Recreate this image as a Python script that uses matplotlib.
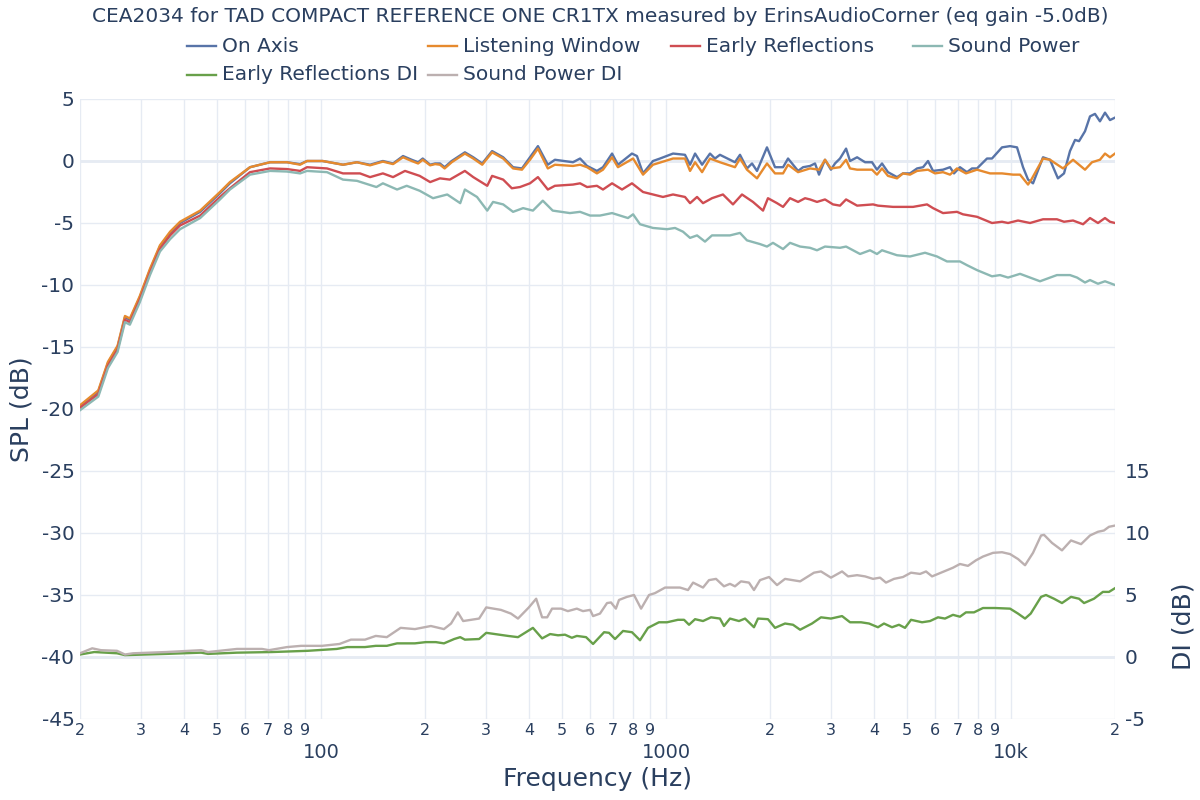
import matplotlib.pyplot as plt
from matplotlib.lines import Line2D
from matplotlib.ticker import FixedLocator

plt.rcParams['font.family'] = ['DejaVu Sans']
plt.rcParams['axes.unicode_minus'] = False

TEXT = '#2a3f5f'
GRID = '#e6ebf3'

title = "CEA2034 for TAD COMPACT REFERENCE ONE CR1TX measured by ErinsAudioCorner (eq gain -5.0dB)"

# On Axis
on_freq = [20, 22.6, 24.1, 25.7, 27.0, 27.9, 29.8, 31.9, 34.1, 36.5, 39.0, 44.6, 50.9, 54.4, 62.2,
           71.1, 79.6, 86.9, 91, 101, 115.7, 127, 138.6, 151, 161.6, 172.7, 183, 191, 197, 207,
           214, 221, 228, 239, 261, 276, 293, 313, 337, 360, 382, 403, 425, 454, 476, 537, 563,
           590, 630, 656, 697, 725, 796, 823, 857, 916, 960, 1047, 1134, 1173, 1213, 1271, 1340,
           1385, 1432, 1583, 1637, 1715, 1774, 1834, 1960, 2068, 2182, 2256, 2412, 2494, 2612,
           2701, 2774, 2887, 3004, 3086, 3191, 3323, 3412, 3577, 3772, 3952, 4084, 4224, 4395,
           4668, 4858, 5092, 5337, 5555, 5742, 5937, 6346, 6649, 6829, 7106, 7446, 7700, 7963,
           8511, 8800, 9408, 9928, 10400, 10826, 11194, 11572, 12370, 12962, 13664, 14232, 14810,
           15320, 15732, 16372, 16928, 17498, 18088, 18708, 19342, 20000]
on_spl = [-19.8, -18.6, -16.3, -15.0, -12.6, -12.8, -11.0, -8.8, -6.9, -5.8, -5.0, -4.1, -2.6, -1.8, -0.5,
          -0.1, -0.1, -0.25, 0.0, 0.0, -0.3, -0.1, -0.3, 0.0, -0.2, 0.4, 0.1, -0.1, 0.2, -0.3,
          -0.2, -0.2, -0.5, 0.0, 0.7, 0.3, -0.2, 0.8, 0.3, -0.5, -0.6, 0.3, 1.2, -0.3, 0.1, -0.1, 0.2,
          -0.4, -0.8, -0.5, 0.6, -0.3, 0.6, 0.4, -1.0, 0.0, 0.2, 0.6, 0.5, -0.3, 0.6, -0.3, 0.6,
          0.2, 0.5, -0.1, 0.5, -0.6, -0.2, -0.8, 1.1, -0.5, -0.5, 0.2, -0.8, -0.5, -0.4,
          -0.2, -1.1, 0.1, -0.7, -0.2, 0.2, 1.0, 0.0, 0.3, -0.1, -0.1, -0.7, -0.2, -0.9,
          -1.3, -1.0, -1.0, -0.6, -0.5, 0.0, -0.8, -0.7, -0.5, -1.0, -0.5, -0.9, -0.6, -0.6,
          0.2, 0.2, 1.1, 1.2, 1.1, -0.5, -1.5, -1.8, 0.3, 0.1, -1.4, -1.0, 0.8,
          1.7, 1.6, 2.4, 3.6, 3.8, 3.2, 3.9, 3.3, 3.5]

# Listening Window
lw_freq = [20, 22.6, 24.1, 25.7, 27.0, 27.9, 29.8, 31.9, 34.1, 36.5, 39.0, 44.6, 50.9, 54.4, 62.2,
           71.1, 79.6, 86.9, 91, 101, 115.7, 127, 138.6, 151, 161.6, 172.7, 183, 191, 197, 207,
           214, 221, 228, 239, 261, 276, 293, 313, 337, 360, 382, 403, 425, 454, 476, 537, 563,
           590, 630, 656, 697, 725, 802, 857, 916, 1047, 1134, 1173, 1213, 1271, 1340, 1432,
           1583, 1637, 1715, 1834, 1960, 2068, 2182, 2256, 2412, 2612, 2774, 2887, 3004, 3191,
           3323, 3412, 3577, 3952, 4084, 4224, 4395, 4668, 4858, 5092, 5337, 5742, 6016, 6346,
           6649, 6966, 7397, 7963, 8684, 9408, 10129, 10612, 11194, 11443, 12370, 12962, 14136,
           15114, 16372, 17152, 18088, 18708, 19342, 20000]
lw_spl = [-19.7, -18.5, -16.2, -14.9, -12.5, -12.7, -10.9, -8.7, -6.8, -5.7, -4.9, -4.0, -2.5, -1.7, -0.5,
          -0.1, -0.1, -0.3, 0.0, 0.0, -0.3, -0.1, -0.35, -0.05, -0.25, 0.3, 0.0, -0.2, 0.1, -0.35,
          -0.25, -0.3, -0.6, -0.1, 0.6, 0.2, -0.3, 0.7, 0.2, -0.6, -0.7, 0.1, 1.0, -0.6, -0.3, -0.4, -0.3,
          -0.5, -1.0, -0.7, 0.3, -0.5, 0.2, -1.1, -0.3, 0.2, 0.2, -0.8, -0.1, -0.9, 0.2, -0.1,
          -0.5, 0.2, -0.7, -1.4, -0.2, -1.0, -1.0, -0.3, -0.9, -0.6, -0.7, 0.1, -0.6, -0.5,
          0.1, -0.6, -0.7, -0.7, -1.1, -0.6, -1.2, -1.4, -1.0, -1.1, -0.8, -0.7, -1.0, -0.9,
          -1.1, -0.6, -1.0, -0.7, -1.0, -1.0, -1.1, -1.1, -1.9, -1.5, 0.2, 0.1, -0.6,
          0.1, -0.7, -0.1, 0.1, 0.6, 0.3, 0.6]

# Early Reflections
er_freq = [20, 22.6, 24.1, 25.7, 27.0, 27.9, 29.8, 31.9, 34.1, 36.5, 39.0, 44.6, 50.9, 54.4, 62.2,
           71.1, 79.6, 86.9, 91, 104, 115.7, 129.6, 138.6, 151, 161.6, 175, 193, 207, 221, 236,
           261, 276, 303, 313, 337, 357, 377, 403, 425, 454, 476, 537, 563, 590, 630, 656, 697,
           745, 796, 857, 916, 979, 1047, 1134, 1173, 1229, 1279, 1358, 1461, 1562, 1659, 1785,
           1909, 1973, 2096, 2182, 2286, 2412, 2527, 2612, 2737, 2887, 3045, 3191, 3323, 3577,
           3979, 4111, 4545, 5196, 5704, 5937, 6346, 6966, 7250, 7963, 8800, 9408, 9796, 10470,
           11344, 12370, 13572, 14232, 15114, 16160, 16928, 17852, 18708, 19342, 20000]
er_spl = [-19.9, -18.8, -16.5, -15.2, -12.8, -13.0, -11.2, -9.0, -7.1, -6.0, -5.2, -4.4, -2.9, -2.2, -0.9,
          -0.6, -0.65, -0.8, -0.5, -0.6, -1.0, -1.0, -1.3, -1.0, -1.3, -0.8, -1.2, -1.7, -1.4, -1.5,
          -0.8, -1.3, -2.0, -1.2, -1.5, -2.2, -2.1, -1.8, -1.3, -2.3, -2.0, -1.9, -1.8, -2.1, -2.0, -2.3, -1.8,
          -2.3, -1.8, -2.5, -2.7, -2.9, -2.7, -2.9, -3.4, -2.9, -3.4, -3.0, -2.7, -3.5, -2.7, -3.3,
          -4.0, -3.0, -3.4, -3.7, -3.0, -3.3, -3.0, -3.1, -3.3, -3.1, -3.5, -3.6, -3.1, -3.6,
          -3.5, -3.6, -3.7, -3.7, -3.5, -3.8, -4.2, -4.1, -4.3, -4.5, -5.0, -4.9, -5.0, -4.8,
          -5.0, -4.7, -4.7, -4.9, -4.8, -5.1, -4.6, -5.0, -4.6, -4.9, -5.0]

# Sound Power
sp_freq = [20, 22.6, 24.1, 25.7, 27.0, 27.9, 29.8, 31.9, 34.1, 36.5, 39.0, 44.6, 50.9, 54.4, 62.2,
           71.1, 79.6, 86.9, 91, 104, 115.7, 127, 144.6, 151, 166, 177, 193, 211, 232, 253,
           261, 283, 303, 315, 337, 360, 385, 411, 439, 469, 526, 563, 602, 643, 697, 735, 775,
           802, 840, 916, 1006, 1061, 1119, 1173, 1229, 1296, 1358, 1432, 1531, 1637, 1715, 1871,
           1960, 2040, 2182, 2286, 2445, 2612, 2737, 2887, 3191, 3323, 3648, 3899, 4084, 4224,
           4668, 5092, 5629, 6097, 6517, 7106, 7446, 7963, 8800, 9283, 9796, 10612, 12126, 13572,
           14810, 15524, 16372, 16928, 17852, 18708, 20000]
sp_spl = [-20.1, -19.0, -16.7, -15.4, -13.0, -13.2, -11.4, -9.2, -7.3, -6.3, -5.5, -4.6, -3.1, -2.3, -1.1,
          -0.8, -0.85, -1.0, -0.8, -0.9, -1.5, -1.6, -2.1, -1.8, -2.3, -2.0, -2.4, -3.0, -2.7, -3.4,
          -2.3, -2.9, -4.0, -3.3, -3.5, -4.1, -3.8, -4.0, -3.2, -4.0, -4.2, -4.1, -4.4, -4.4, -4.2, -4.4, -4.6,
          -4.3, -5.1, -5.4, -5.5, -5.4, -5.7, -6.2, -6.0, -6.5, -6.0, -6.0, -6.0, -5.8, -6.4, -6.7,
          -6.9, -6.6, -7.1, -6.6, -6.9, -7.0, -7.2, -6.9, -7.0, -6.9, -7.5, -7.2, -7.5, -7.2,
          -7.6, -7.7, -7.4, -7.7, -8.1, -8.1, -8.4, -8.8, -9.3, -9.2, -9.4, -9.1, -9.7, -9.2,
          -9.2, -9.4, -9.8, -9.6, -9.9, -9.7, -10.0]

# Early Reflections DI
erdi_freq = [20, 22.0, 25.6, 27.0, 35.5, 44.9, 47.0, 57.0, 72.0, 91.5, 111, 119, 134, 144, 155, 166,
             187, 201, 215, 227, 243, 253, 261, 287, 301, 348, 372, 411, 437, 461, 486, 509, 533,
             551, 586, 614, 661, 683, 711, 750, 796, 840, 886, 953, 1006, 1082, 1127, 1165, 1213,
             1279, 1349, 1432, 1471, 1531, 1626, 1693, 1797, 1846, 1973, 2068, 2211, 2332, 2445,
             2647, 2811, 3004, 3235, 3412, 3672, 3873, 4111, 4280, 4515, 4730, 4925, 5126, 5518,
             5820, 6138, 6431, 6783, 7106, 7397, 7804, 8286, 8980, 9928, 10470, 10972, 11394,
             12210, 12619, 13308, 14040, 14910, 15732, 16268, 17380, 18446, 19214, 20000]
erdi_db = [0.2, 0.4, 0.3, 0.15, 0.25, 0.35, 0.25, 0.35, 0.4, 0.5, 0.65, 0.8, 0.8, 0.9, 0.9, 1.1,
           1.1, 1.2, 1.2, 1.1, 1.45, 1.6, 1.4, 1.45, 1.95, 1.7, 1.6, 2.35, 1.5, 1.85, 1.75, 1.8, 1.55,
           1.7, 1.6, 1.05, 2.0, 1.95, 1.45, 2.1, 2.0, 1.35, 2.35, 2.8, 2.8, 3.0, 3.0, 2.6, 3.05,
           2.9, 3.2, 3.1, 2.5, 3.1, 2.9, 3.1, 2.4, 3.1, 3.05, 2.35, 2.7, 2.6, 2.2,
           2.7, 3.2, 3.1, 3.3, 2.8, 2.8, 2.7, 2.4, 2.7, 2.4, 2.6, 2.35, 3.0, 2.8,
           2.9, 3.2, 3.1, 3.4, 3.25, 3.6, 3.6, 3.95, 3.95, 3.9, 3.5, 3.1, 3.5,
           4.85, 5.0, 4.7, 4.35, 4.85, 4.7, 4.35, 4.7, 5.25, 5.25, 5.55]

# Sound Power DI
spdi_freq = [20, 21.7, 23.0, 25.6, 27.0, 28.5, 35.5, 44.9, 47.0, 57.0, 67.4, 70.6, 79.6, 87.5, 100.6,
             113, 122, 134, 144, 155, 170, 187, 208, 227, 238, 249, 258, 287, 301, 332, 355, 372,
             400, 420, 437, 452, 467, 496, 519, 551, 574, 602, 614, 643, 674, 692, 715, 730, 770,
             807, 846, 892, 928, 993, 1054, 1097, 1157, 1197, 1279, 1331, 1395, 1471, 1531, 1583,
             1648, 1738, 1797, 1871, 1987, 2096, 2211, 2445, 2683, 2811, 3004, 3235, 3368, 3577,
             3772, 3979, 4168, 4337, 4575, 4858, 5126, 5445, 5666, 5898, 6262, 6783, 7106, 7496,
             7910, 8286, 8860, 9408, 9928, 10470, 10972, 11572, 12210, 12455, 13136, 14040, 14910,
             15946, 16928, 17852, 18570, 19214, 20000]
spdi_db = [0.3, 0.7, 0.55, 0.5, 0.2, 0.3, 0.4, 0.55, 0.4, 0.65, 0.65, 0.55, 0.8, 0.9, 0.9,
           1.05, 1.4, 1.4, 1.7, 1.6, 2.35, 2.25, 2.5, 2.25, 2.7, 3.6, 2.9, 3.1, 4.0, 3.8, 3.5, 3.1,
           4.0, 4.7, 3.2, 3.2, 3.9, 3.9, 3.7, 3.9, 3.7, 3.8, 3.3, 3.5, 4.35, 4.4, 3.9, 4.6, 4.85,
           5.0, 3.9, 5.0, 5.15, 5.6, 5.6, 5.6, 5.4, 6.0, 5.6, 6.2, 6.3, 5.7, 5.9, 5.7,
           6.1, 6.0, 5.4, 6.2, 6.45, 5.8, 6.3, 6.1, 6.8, 6.9, 6.4, 6.9, 6.5, 6.6,
           6.5, 6.3, 6.4, 6.0, 6.3, 6.45, 6.8, 6.7, 6.9, 6.5, 6.8, 7.2, 7.5, 7.35,
           7.8, 8.1, 8.4, 8.45, 8.3, 7.9, 7.4, 8.4, 9.8, 9.85, 9.2, 8.6, 9.4,
           9.1, 9.8, 10.1, 10.2, 10.5, 10.6]

spl_series = [
    ("On Axis", on_freq, on_spl, '#5874a8'),
    ("Listening Window", lw_freq, lw_spl, '#e68a2e'),
    ("Early Reflections", er_freq, er_spl, '#cf4d52'),
    ("Sound Power", sp_freq, sp_spl, '#8cb8b3'),
]
di_series = [
    ("Early Reflections DI", erdi_freq, erdi_db, '#68a04a'),
    ("Sound Power DI", spdi_freq, spdi_db, '#bcb0b0'),
]

fig = plt.figure(figsize=(12, 8), dpi=100)
ax = fig.add_axes([80 / 1200, 81 / 800, 1035 / 1200, 620 / 800])
ax2 = ax.twinx()

for name, f, v, c in spl_series:
    ax.plot(f, v, color=c, lw=1.7, solid_joinstyle='round')
for name, f, v, c in di_series:
    ax2.plot(f, v, color=c, lw=1.7, solid_joinstyle='round')

ax.set_xscale('log')
ax.set_xlim(20, 20000)
ax.set_ylim(-45, 5)
ax2.set_ylim(-5, 45)
ax.set_yticks(range(-45, 6, 5))
ax2.set_yticks([-5, 0, 5, 10, 15])

# x ticks: decades big and low, the rest as single digits
majors = [100, 1000, 10000]
minors = [m * d for d in (10, 100, 1000) for m in range(2, 10)] + [20000]
ax.xaxis.set_major_locator(FixedLocator(majors))
ax.set_xticklabels(["100", "1000", "10k"])
ax.set_xticks(minors, minor=True)
ax.set_xticklabels([str(m)[0] for m in minors], minor=True)
ax.tick_params(axis='x', which='major', length=0, pad=17, labelsize=14, labelcolor=TEXT)
ax.tick_params(axis='x', which='minor', length=0, pad=3, labelsize=11.5, labelcolor=TEXT)
ax.tick_params(axis='y', length=0, pad=4, labelsize=14.5, labelcolor=TEXT)
ax2.tick_params(axis='y', length=0, pad=7, labelsize=14.5, labelcolor=TEXT)

ax.grid(True, which='both', axis='x', color=GRID, lw=1)
ax.grid(True, which='major', axis='y', color=GRID, lw=1)
ax.axhline(0, color=GRID, lw=2, zorder=0.5)
ax.axhline(-40, color=GRID, lw=2, zorder=0.5)
ax.set_axisbelow(True)
for a in (ax, ax2):
    for s in a.spines.values():
        s.set_visible(False)

ax.set_xlabel("Frequency (Hz)", fontsize=18, color=TEXT, labelpad=4)
ax.set_ylabel("SPL (dB)", fontsize=18, color=TEXT, labelpad=6)
ax2.set_ylabel("DI (dB)", fontsize=18, color=TEXT)
ax2.yaxis.set_label_coords(1.055, 0.15)

fig.text(0.5, 0.98, title, ha='center', va='center', fontsize=14.5, color=TEXT)

# legend, laid out like the plotly one: four columns, two rows
col_x = [187, 428, 671, 913]
row_y = [46, 75]
entries = spl_series + di_series
for i, (name, f, v, c) in enumerate(entries):
    x0 = col_x[i % 4]
    y0 = row_y[i // 4]
    fig.add_artist(Line2D([x0 / 1200, (x0 + 29) / 1200], [1 - y0 / 800, 1 - y0 / 800],
                          color=c, lw=1.7, transform=fig.transFigure))
    fig.text((x0 + 35) / 1200, 1 - y0 / 800, name, ha='left', va='center',
             fontsize=14.5, color=TEXT)

fig.savefig("out.png", dpi=100)
